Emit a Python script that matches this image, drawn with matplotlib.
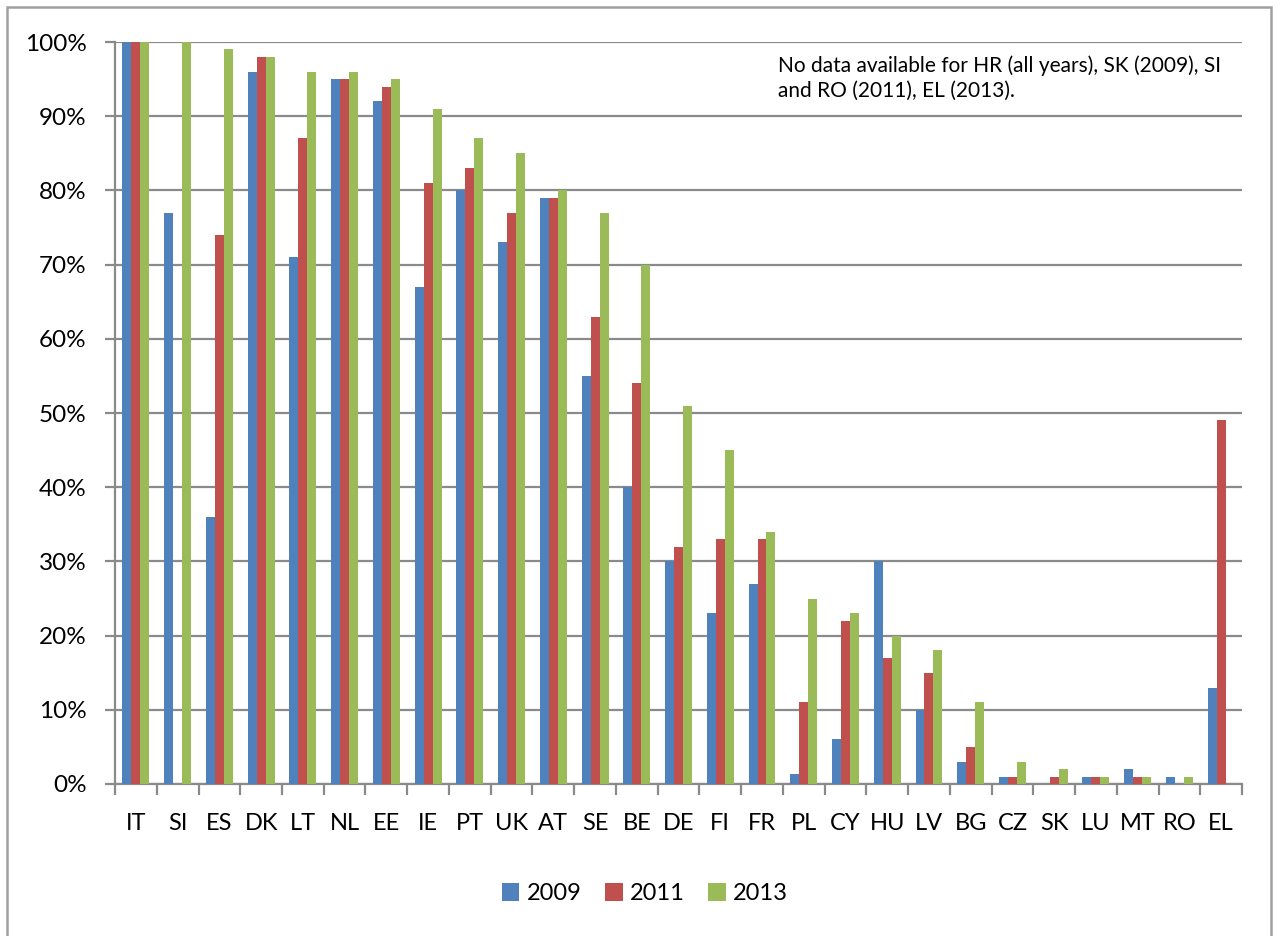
import numpy as np
import matplotlib.pyplot as plt
from matplotlib.patches import Rectangle
from matplotlib.ticker import PercentFormatter, FixedLocator

plt.rcParams['font.family'] = ['Lato', 'DejaVu Sans']

countries = ['IT', 'SI', 'ES', 'DK', 'LT', 'NL', 'EE', 'IE', 'PT', 'UK', 'AT', 'SE', 'BE',
             'DE', 'FI', 'FR', 'PL', 'CY', 'HU', 'LV', 'BG', 'CZ', 'SK', 'LU', 'MT', 'RO', 'EL']
y2009 = [100, 77, 36, 96, 71, 95, 92, 67, 80, 73, 79, 55, 40,
         30, 23, 27, 1.3, 6, 30, 10, 3, 1, np.nan, 1, 2, 1, 13]
y2011 = [100, np.nan, 74, 98, 87, 95, 94, 81, 83, 77, 79, 63, 54,
         32, 33, 33, 11, 22, 17, 15, 5, 1, 1, 1, 1, np.nan, 49]
y2013 = [100, 100, 99, 98, 96, 96, 95, 91, 87, 85, 80, 77, 70,
         51, 45, 34, 25, 23, 20, 18, 11, 3, 2, 1, 1, 1, np.nan]
years = ['2009', '2011', '2013']
colors = ['#4F81BD', '#C0504D', '#9BBB59']
note = 'No data available for HR (all years), SK (2009), SI\nand RO (2011), EL (2013).'

grey = '#8a8a8a'

fig = plt.figure(figsize=(12.77, 9.36), dpi=100)
ax = fig.add_axes([0.0901, 0.1624, 0.8825, 0.7927])

x = np.arange(len(countries))
w = 0.215
for i, (vals, yr, c) in enumerate(zip([y2009, y2011, y2013], years, colors)):
    ax.bar(x + (i - 1) * w, vals, w, color=c, label=yr, zorder=3)

ax.set_xlim(-0.5, len(countries) - 0.5)
ax.set_ylim(0, 100)
ax.yaxis.set_major_locator(FixedLocator(np.arange(0, 101, 10)))
ax.yaxis.set_major_formatter(PercentFormatter(decimals=0))
ax.grid(axis='y', color=grey, linewidth=1.6, zorder=0)

# category labels centred, tick marks on the boundaries
ax.set_xticks(x)
ax.set_xticklabels(countries)
ax.set_xticks(np.arange(-0.5, len(countries)), minor=True)
ax.tick_params(axis='x', which='major', length=0, pad=21, labelsize=17)
ax.tick_params(axis='x', which='minor', length=8, width=1.6, color=grey)
ax.tick_params(axis='y', length=7.5, width=1.6, color=grey, pad=13, labelsize=17.5)

for s in ['top', 'right']:
    ax.spines[s].set_visible(False)
for s in ['left', 'bottom']:
    ax.spines[s].set_color(grey)
    ax.spines[s].set_linewidth(1.6)

ax.text(0.588, 0.982, note, transform=ax.transAxes, fontsize=15, va='top',
        linespacing=1.3)

fig.legend(loc='center', bbox_to_anchor=(0.505, 0.045), ncol=3, frameon=False,
           fontsize=17, handlelength=0.75, handleheight=0.75, handletextpad=0.3,
           columnspacing=1.0, borderpad=0)

fig.patches.append(Rectangle((7 / 1277, -0.05), 1264 / 1277, 1.05 - 7 / 936,
                             transform=fig.transFigure, fill=False,
                             edgecolor='#a0a0a0', linewidth=1.8))

fig.savefig('out.png', dpi=100)
